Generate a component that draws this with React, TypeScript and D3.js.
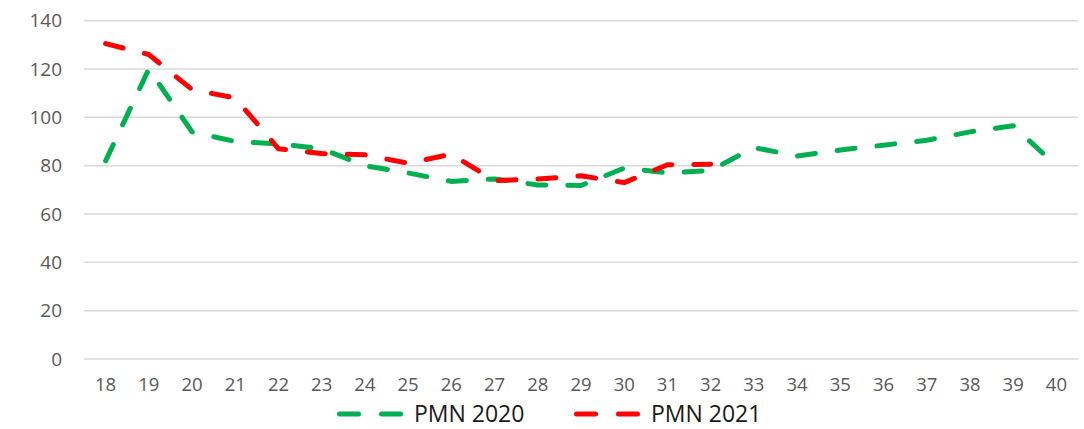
import React, {useEffect, useRef} from 'react';
import * as d3 from 'd3';

const weeks = ['18', '19', '20', '21', '22', '23', '24', '25', '26', '27', '28', '29', '30', '31', '32', '33', '34', '35', '36', '37', '38', '39', '40'];
const pmn2020 = [82, 120, 94, 90, 89, 87, 80, 77, 73.5, 74.5, 72, 71.8, 79, 77, 78, 87.5, 84, 86.5, 88.5, 90.5, 94, 96.5, 80];
const pmn2021 = [130.5, 126, 111.5, 108, 87, 85, 84.5, 81, 84.8, 73.8, 74.5, 75.8, 73, 80.4, 80.6];
const yTicks = [0, 20, 40, 60, 80, 100, 120, 140];

const series = [
    { name: 'PMN 2020', color: '#00B050', values: pmn2020 },
    { name: 'PMN 2021', color: '#FF0000', values: pmn2021 },
];

const W = 1084;
const H = 429;
const FONT = '"Open Sans", "Noto Sans", sans-serif';

const App: React.FC = () => {
    const ref = useRef<SVGSVGElement>(null);
    useEffect(() => {
        document.body.style.margin = '0';
        const svg = d3.select(ref.current);
        svg.selectAll('*').remove();

        const xScale = d3.scalePoint<string>().domain(weeks).range([84, 1078]).padding(0.5);
        const yScale = d3.scaleLinear().domain([0, 140]).range([359, 20.7]);

        // grid
        svg.append('g')
            .selectAll('line')
            .data(yTicks)
            .enter()
            .append('line')
            .attr('x1', 84)
            .attr('x2', 1078)
            .attr('y1', (d) => yScale(d))
            .attr('y2', (d) => yScale(d))
            .attr('stroke', '#d9d9d9')
            .attr('stroke-width', 1.5);

        // y labels
        svg.append('g')
            .selectAll('text')
            .data(yTicks)
            .enter()
            .append('text')
            .attr('x', 62)
            .attr('y', (d) => yScale(d))
            .attr('dy', '0.35em')
            .attr('text-anchor', 'end')
            .attr('font-family', FONT)
            .attr('font-size', 19)
            .attr('fill', '#595959')
            .text((d) => d);

        // x labels
        svg.append('g')
            .selectAll('text')
            .data(weeks)
            .enter()
            .append('text')
            .attr('x', (d) => xScale(d)!)
            .attr('y', 391)
            .attr('text-anchor', 'middle')
            .attr('font-family', FONT)
            .attr('font-size', 18.5)
            .attr('fill', '#595959')
            .text((d) => d);

        const line = d3.line<number>()
            .x((_, i) => xScale(weeks[i])!)
            .y((d) => yScale(d));

        series.forEach((s) => {
            svg.append('path')
                .datum(s.values)
                .attr('d', line)
                .attr('fill', 'none')
                .attr('stroke', s.color)
                .attr('stroke-width', 5)
                .attr('stroke-linecap', 'round')
                .attr('stroke-linejoin', 'round')
                .attr('stroke-dasharray', '18 22');
        });

        // legend
        const legendX = [337, 574];
        series.forEach((s, i) => {
            const g = svg.append('g').attr('transform', `translate(${legendX[i]},414)`);
            [0, 42].forEach((off) => {
                g.append('line')
                    .attr('x1', off + 2.5)
                    .attr('x2', off + 21.5)
                    .attr('stroke', s.color)
                    .attr('stroke-width', 5)
                    .attr('stroke-linecap', 'round');
            });
            g.append('text')
                .attr('x', 77)
                .attr('y', 8)
                .attr('font-family', FONT)
                .attr('font-size', 23)
                .attr('fill', '#1a1a1a')
                .text(s.name);
        });
    }, []);

    return <svg ref={ref} width={W} height={H} style={{display: 'block', background: '#fff'}} />;
};

export default App;
